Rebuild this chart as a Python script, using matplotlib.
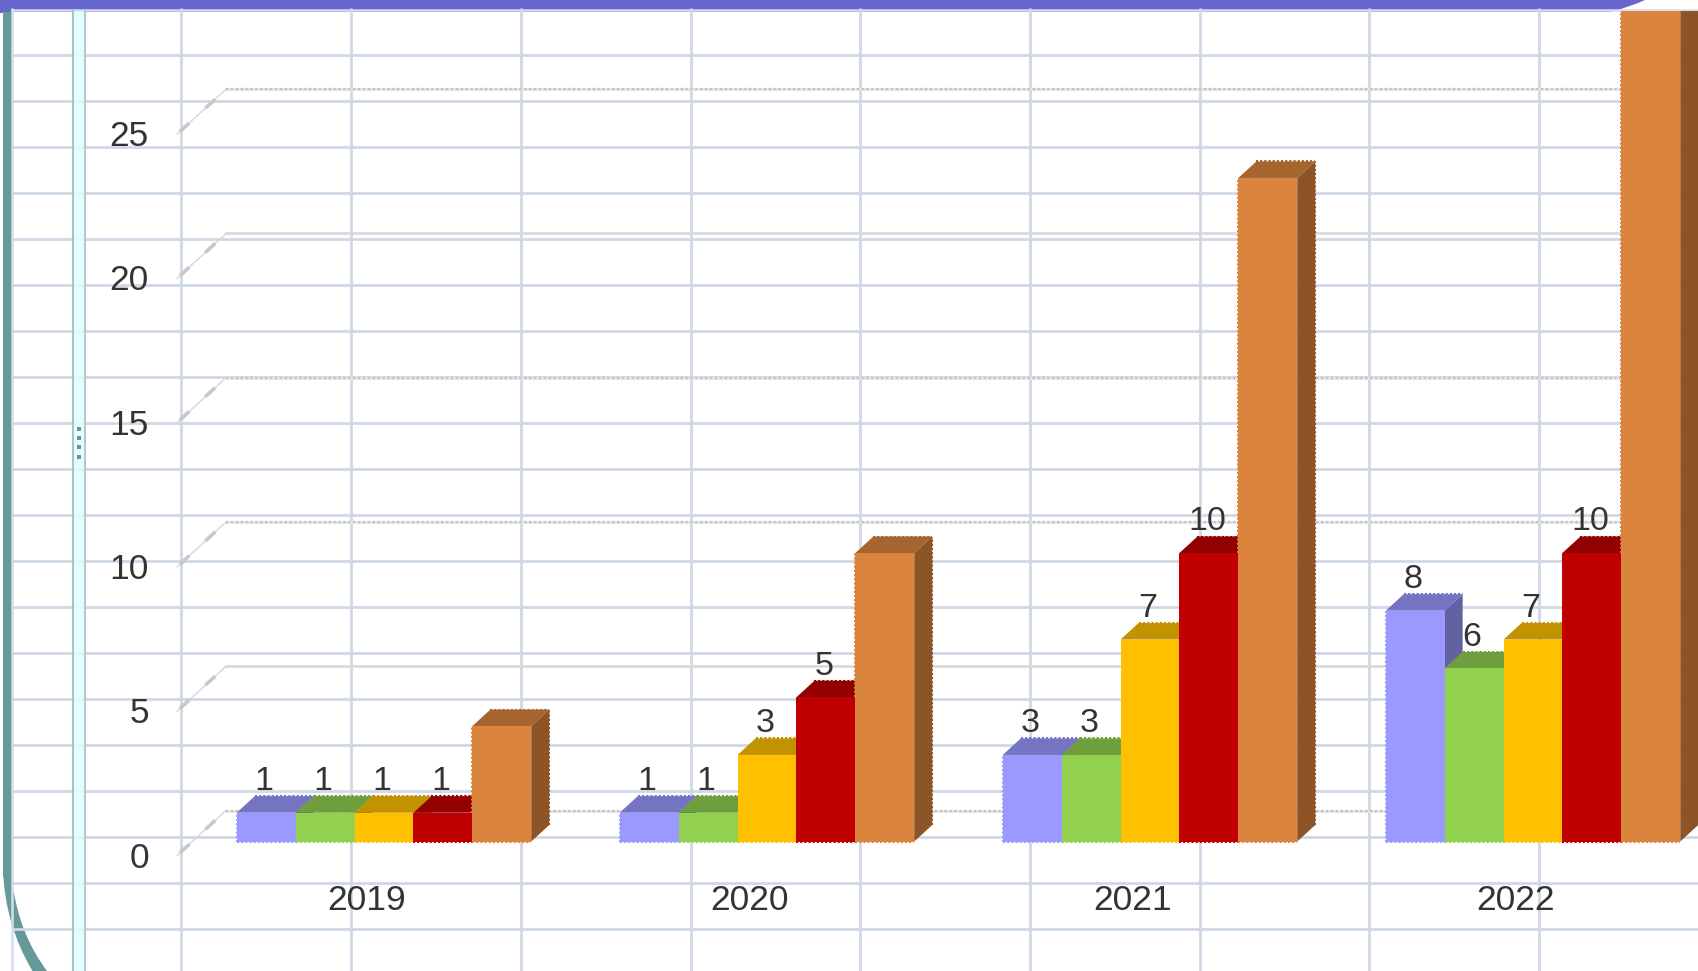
import matplotlib
matplotlib.use("Agg")
import matplotlib.pyplot as plt
from matplotlib.patches import PathPatch, Polygon, Rectangle
from matplotlib.path import Path

plt.rcParams["font.family"] = ["Liberation Sans", "DejaVu Sans"]

years = ["2019", "2020", "2021", "2022"]
series_a = [1, 1, 3, 8]
series_b = [1, 1, 3, 6]
series_c = [1, 3, 7, 7]
series_d = [1, 5, 10, 10]
series_e = [4, 10, 23, 30]
axis_ticks = [0, 5, 10, 15, 20, 25]
dotted_ticks = [0, 10, 15, 25]

series = [series_a, series_b, series_c, series_d, series_e]
colors = ["#9999FF", "#92D050", "#FFC000", "#C00000", "#DB843D"]
show_labels = [True, True, True, True, False]

W, H = 1698, 971
PX_X = 383.0   # pixels per category
PX_Y = 28.85   # pixels per value unit
X0, Y0 = 384.0, 841.5
TOP = 11
BAR = 58.9 / PX_X
DEPTH_X = 18 / PX_X
DEPTH_Y = 16.5 / PX_Y
GRID = "#CFD8E6"
TEXT = "#333333"
SERRATE = (0, (1, 1))


def shade(color, k):
    rgb = matplotlib.colors.to_rgb(color)
    return tuple(c * k for c in rgb)


def serrated(xs, ys, color, z):
    ax.plot(xs, ys, color=color, lw=1.5, ls=SERRATE, dash_capstyle="butt", zorder=z)


fig = plt.figure(figsize=(W / 100, H / 100), dpi=100)
bg = fig.add_axes([0, 0, 1, 1])
bg.set_xlim(0, W)
bg.set_ylim(H, 0)
bg.axis("off")

# page furniture behind the chart
band = Path([(0, 0), (1645, 0), (1630, 7), (1610, 12), (3, 12), (3, 13), (0, 13), (0, 0)],
            [Path.MOVETO, Path.LINETO, Path.CURVE3, Path.CURVE3, Path.LINETO, Path.LINETO, Path.LINETO, Path.CLOSEPOLY])
bg.add_patch(PathPatch(band, fc="#6666CC", ec="none", zorder=1))
bg.add_patch(Rectangle((3, 12), 9.5, 865, fc="#669999", ec="none", zorder=1))
teal = Path([(3, 870), (5, 925), (32.5, 971), (47, 971), (20, 935), (13, 887), (12.5, 870), (3, 870)],
            [Path.MOVETO, Path.CURVE3, Path.CURVE3, Path.LINETO, Path.CURVE3, Path.CURVE3, Path.LINETO, Path.CLOSEPOLY])
bg.add_patch(PathPatch(teal, fc="#669999", ec="none", zorder=1))

for i in range(21):
    bg.plot([12, W], [55.5 + 46 * i] * 2, color=GRID, lw=2, zorder=2, solid_capstyle="butt")
for i in range(9):
    bg.plot([181.5 + 169.7 * i] * 2, [8, H], color=GRID, lw=2, zorder=2, solid_capstyle="butt")
bg.plot([12, W], [10, 10], color="#D5DBE8", lw=1.8, zorder=2)
bg.plot([12, 12], [8, H], color="#D5DBE8", lw=1.8, zorder=2, solid_capstyle="butt")

bg.add_patch(Rectangle((73, 11), 12, H, fc="#E0FFFF", ec="none", alpha=0.85, zorder=3))
bg.plot([73, 73], [11, H], color="#A9C4C4", lw=1.5, zorder=3)
bg.plot([85, 85], [11, H], color="#BDC6C6", lw=1.5, zorder=3)
for y in [429, 438, 447.5, 457]:
    bg.add_patch(Rectangle((77.3, y - 2), 4, 4, fc="#7F8C8C", ec="none", zorder=4))

ax = fig.add_axes([0, 0, 1, (H - TOP) / H])
ax.set_xlim(-X0 / PX_X, (W - X0) / PX_X)
ax.set_ylim((Y0 - H) / PX_Y, (Y0 - TOP) / PX_Y)
ax.axis("off")
ax.patch.set_alpha(0)

# back wall lines and the short diagonal at each tick
wall_x0 = (177 - X0) / PX_X
wall_x1 = (226 - X0) / PX_X
wall_up = 31 / PX_Y
tick_down = 14 / PX_Y
for v in axis_ticks:
    y0, y1 = v - tick_down, v + wall_up
    ax.plot([wall_x0, wall_x1], [y0, y1], color="#D4D4D4", lw=0.9, zorder=1)
    for a, b in [(0.06, 0.25), (0.58, 0.78)]:
        ax.plot([wall_x0 + a * (wall_x1 - wall_x0), wall_x0 + b * (wall_x1 - wall_x0)],
                [y0 + a * (y1 - y0), y0 + b * (y1 - y0)], color="#C8C8C8", lw=2.6, zorder=1, solid_capstyle="butt")
    if v in dotted_ticks:
        ax.plot([wall_x1, ax.get_xlim()[1]], [y1, y1], color="#E6E6E6", lw=2.2, zorder=1)
        ax.plot([wall_x1, ax.get_xlim()[1]], [y1, y1], color="#C2C2C2", lw=1.6, ls=(0, (1, 1.2)), zorder=1)
    else:
        ax.plot([wall_x1, ax.get_xlim()[1]], [y1, y1], color="#DADADA", lw=2, zorder=1)
    ax.text((149 - X0) / PX_X, y0 + 1 / PX_Y, str(v), ha="right", va="center_baseline",
            fontsize=25.5, color=TEXT, zorder=8)

# bars, left to right so each front covers its neighbour's side
for g, year in enumerate(years):
    for s, values in enumerate(series):
        left = g - 2.5 * BAR + s * BAR
        right = left + BAR
        v = values[g]
        c = colors[s]
        dark = shade(c, 0.76)
        darker = shade(c, 0.64)
        z = 3 + s * 0.1
        ax.add_patch(Polygon([(left, v), (left + DEPTH_X, v + DEPTH_Y), (right + DEPTH_X, v + DEPTH_Y), (right, v)],
                             closed=True, fc=dark, ec="none", zorder=z))
        ax.add_patch(Polygon([(right, 0), (right + DEPTH_X, DEPTH_Y), (right + DEPTH_X, v + DEPTH_Y), (right, v)],
                             closed=True, fc=darker, ec="none", zorder=z))
        ax.bar(left, v, width=BAR, align="edge", color=c, edgecolor="none", zorder=z + 0.05)
        # small serrated edges along the outer sides
        serrated([left, right], [0, 0], c, z + 0.06)
        serrated([left + DEPTH_X, right + DEPTH_X], [v + DEPTH_Y, v + DEPTH_Y], dark, z)
        if s == 4:
            serrated([right + DEPTH_X, right + DEPTH_X], [DEPTH_Y, v + DEPTH_Y], darker, z)
            serrated([left, left], [series_d[g], v], c, z + 0.06)
        if s == 0:
            serrated([left, left], [0, v], c, z + 0.06)
        if show_labels[s]:
            ax.text((left + right) / 2 - 2 / PX_X, v + 34.5 / PX_Y, str(v), ha="center", va="center_baseline",
                    fontsize=24.5, color=TEXT, zorder=9)
    ax.text(g - 17 / PX_X, -55 / PX_Y, year, ha="center", va="center_baseline",
            fontsize=25.5, color=TEXT, zorder=9)

fig.savefig("out.png", dpi=100)
